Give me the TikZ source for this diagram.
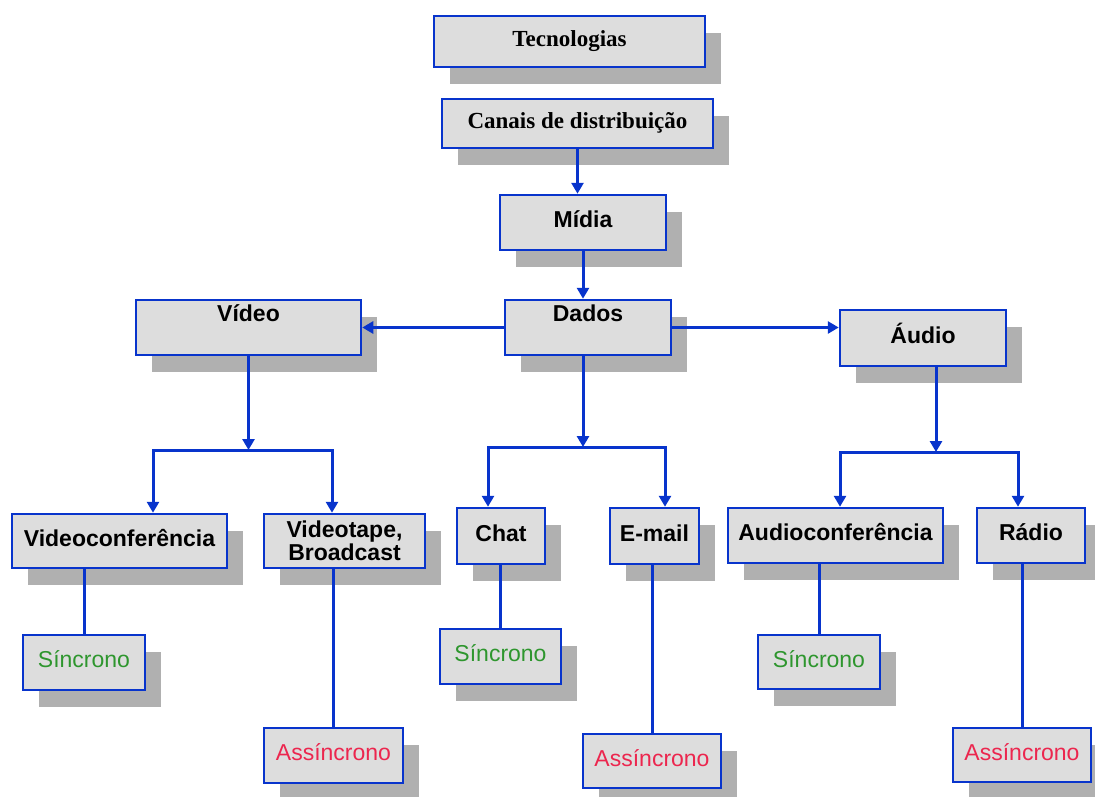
\documentclass[tikz,border=0pt]{standalone}
\usepackage{fontspec}
\setmainfont{Liberation Serif}
\newfontfamily\arial{Liberation Sans}
\usetikzlibrary{arrows.meta,shadows}
\usetikzlibrary{positioning}

\definecolor{azul}{RGB}{8,52,204}
\definecolor{cinzaclaro}{RGB}{221,221,221}
\definecolor{cinzasombra}{RGB}{176,176,176}
\definecolor{verde}{RGB}{46,150,46}
\definecolor{vermelho}{RGB}{236,38,78}

\tikzset{
caixa/.style={rectangle,draw=azul,line width=2.5pt,fill=cinzaclaro,inner sep=0pt,align=center,drop shadow={shadow xshift=16pt,shadow yshift=-17pt,fill=cinzasombra,opacity=1}},
linha/.style={text height=17pt,text depth=7pt},
topo/.style={text height=18pt,text depth=30pt},
titulo/.style={font=\fontsize{23}{23}\selectfont\bfseries},
rotulo/.style={font=\arial\fontsize{23}{23}\selectfont\bfseries},
sinc/.style={font=\arial\fontsize{23}{23}\selectfont,text=verde},
assinc/.style={font=\arial\fontsize{23}{23}\selectfont,text=vermelho},
liga/.style={draw=azul,line width=3pt},
seta/.style={liga,-{Triangle[length=11pt,width=12pt]}}
}

\begin{document}
\begin{tikzpicture}[x=1pt,y=-1pt]
\useasboundingbox (0,0) rectangle (1095,796);
\node at (569.5,41.5)[caixa,titulo,linha,minimum width=271pt,minimum height=51pt](tec){Tecnologias};
\node at (577.5,123.5)[caixa,titulo,linha,minimum width=271pt,minimum height=49pt](can){Canais de distribuição};
\node at (583,222.5)[caixa,rotulo,linha,minimum width=166pt,minimum height=55pt](mid){Mídia};
\node at (248.5,327.5)[caixa,rotulo,topo,minimum width=225pt,minimum height=55pt](vid){Vídeo};
\node at (588,327.5)[caixa,rotulo,topo,minimum width=166pt,minimum height=55pt](dad){Dados};
\node at (923,338)[caixa,rotulo,linha,minimum width=166pt,minimum height=56pt](aud){Áudio};
\node at (119.5,541)[caixa,rotulo,linha,minimum width=215pt,minimum height=54pt](vcf){Videoconferência};
\node at (344.5,541)[caixa,rotulo,minimum width=161pt,minimum height=54pt](vtp){Videotape,\\Broadcast};
\node at (501,536)[caixa,rotulo,linha,minimum width=88pt,minimum height=56pt](cht){Chat};
\node at (654.5,536)[caixa,rotulo,linha,minimum width=89pt,minimum height=56pt](eml){E-mail};
\node at (835.5,535.5)[caixa,rotulo,linha,minimum width=215pt,minimum height=55pt](acf){Audioconferência};
\node at (1031,535.5)[caixa,rotulo,linha,minimum width=108pt,minimum height=55pt](rad){Rádio};
\node at (84,662.5)[caixa,sinc,linha,minimum width=122pt,minimum height=55pt](svid){Síncrono};
\node at (333.5,755.5)[caixa,assinc,linha,minimum width=139pt,minimum height=55pt](avid){Assíncrono};
\node at (500.5,656.5)[caixa,sinc,linha,minimum width=121pt,minimum height=55pt](scht){Síncrono};
\node at (652,761)[caixa,assinc,linha,minimum width=138pt,minimum height=54pt](aeml){Assíncrono};
\node at (819,662)[caixa,sinc,linha,minimum width=122pt,minimum height=54pt](sacf){Síncrono};
\node at (1022,755)[caixa,assinc,linha,minimum width=138pt,minimum height=54pt](arad){Assíncrono};

% ligacoes principais
\draw[seta] (can.south) -- (can.south |- mid.north);
\draw[seta] (mid.south) -- (mid.south |- dad.north);
\draw[seta] (dad.west) -- (vid.east);
\draw[seta] (dad.east) -- (dad.east -| aud.west);

% Video
\coordinate (jvid) at (248.5,450);
\draw[seta] (vid.south) -- (jvid);
\draw[seta] (jvid) -| ([xshift=33.5pt]vcf.north);
\draw[seta] (jvid) -| ([xshift=-12.5pt]vtp.north);

% Dados
\coordinate (jdad) at (583,447);
\draw[seta] ([xshift=-5pt]dad.south) -- (jdad);
\draw[seta] (jdad) -| ([xshift=-13pt]cht.north);
\draw[seta] (jdad) -| ([xshift=10.5pt]eml.north);

% Audio
\coordinate (jaud) at (936,452);
\draw[seta] ([xshift=13pt]aud.south) -- (jaud);
\draw[seta] (jaud) -| ([xshift=4.5pt]acf.north);
\draw[seta] (jaud) -| ([xshift=-13pt]rad.north);

% sincrono / assincrono
\draw[liga] (vcf.south -| svid.north) -- (svid.north);
\draw[liga] (vtp.south -| avid.north) -- (avid.north);
\draw[liga] (cht.south -| scht.north) -- (scht.north);
\draw[liga] (eml.south -| aeml.north) -- (aeml.north);
\draw[liga] (acf.south -| sacf.north) -- (sacf.north);
\draw[liga] (rad.south -| arad.north) -- (arad.north);
\end{tikzpicture}
\end{document}
